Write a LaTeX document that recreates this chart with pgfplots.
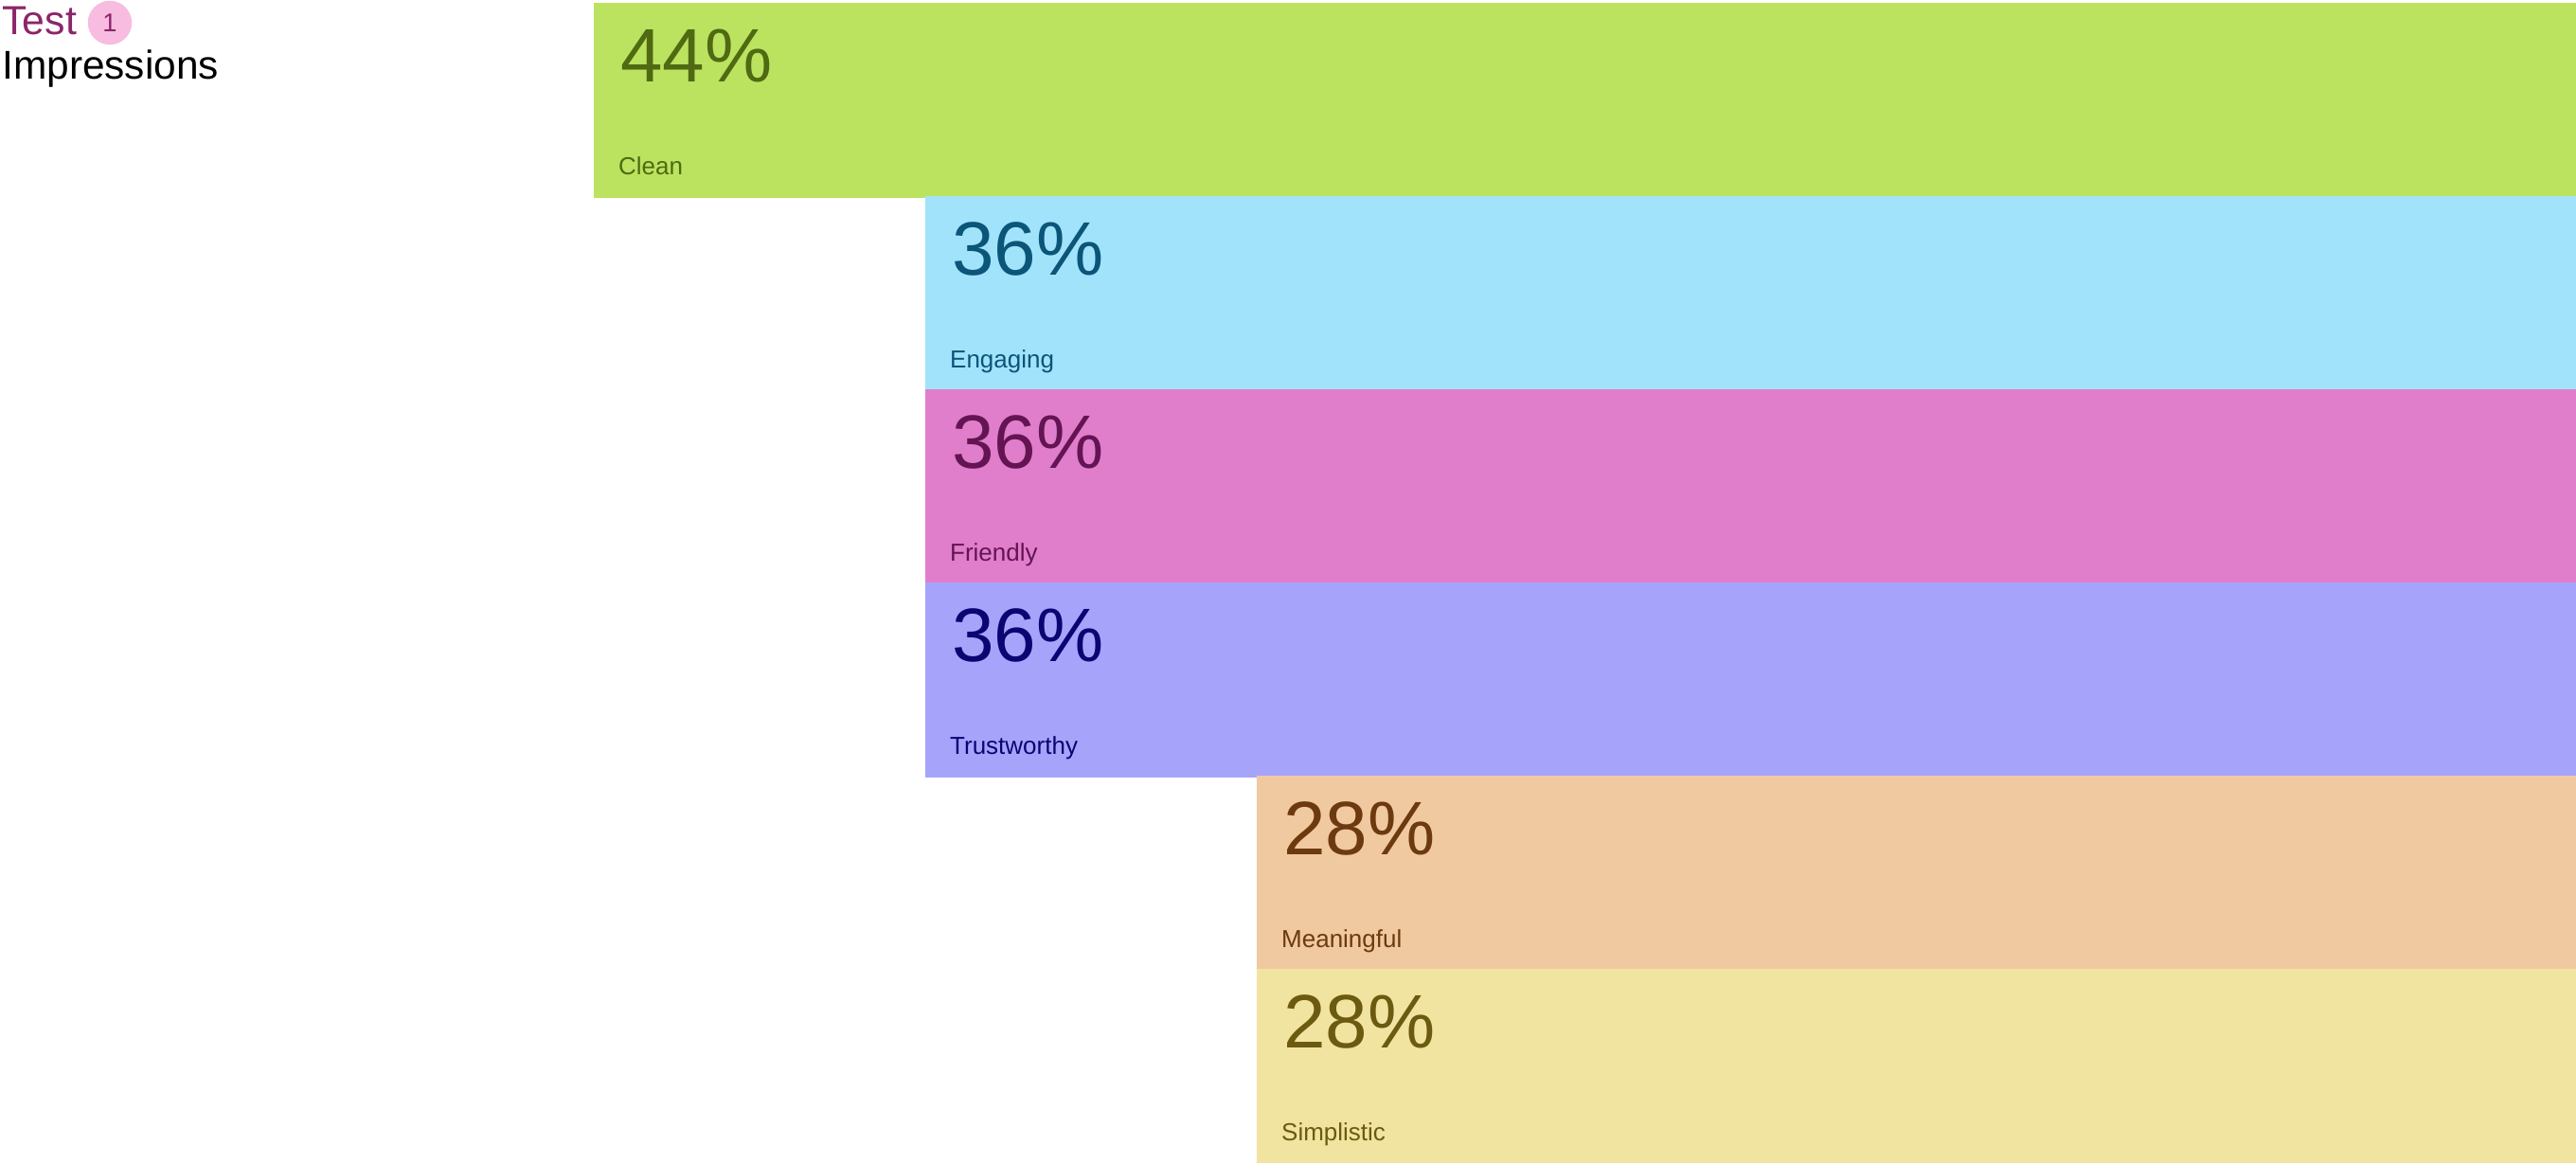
\documentclass[border=0pt]{standalone}
\usepackage{pgfplots}
\pgfplotsset{compat=1.18}
\usepackage{fontspec}
\setmainfont{Liberation Sans}
\definecolor{fClean}{HTML}{BBE35F}\definecolor{tClean}{HTML}{4F6A12}
\definecolor{fEng}{HTML}{A2E3FC}\definecolor{tEng}{HTML}{0A5578}
\definecolor{fFri}{HTML}{E07ECB}\definecolor{tFri}{HTML}{641452}
\definecolor{fTru}{HTML}{A6A4FA}\definecolor{tTru}{HTML}{0A0573}
\definecolor{fMea}{HTML}{F0C9A1}\definecolor{tMea}{HTML}{6C3A0E}
\definecolor{fSim}{HTML}{F1E4A0}\definecolor{tSim}{HTML}{6B5A10}
\definecolor{tTest}{HTML}{8B2668}\definecolor{fBadge}{HTML}{F7BCE0}
\newcommand{\bigpct}{\fontsize{20}{24}\selectfont}
\newcommand{\smalllab}{\fontsize{6.5}{8}\selectfont}
\begin{document}
\begin{tikzpicture}
\begin{axis}[
  width=680pt, height=307pt, scale only axis,
  hide axis, x dir=reverse,
  xmin=-3.817, xmax=58.354, ymin=-0.5, ymax=5.5196,
  xbar, bar width=1, bar shift=0pt,
]
\addplot[draw=fClean, line width=0.3pt, fill=fClean] coordinates {(44,5) (-10,5)};
\addplot[draw=fEng, line width=0.3pt, fill=fEng] coordinates {(36,4) (-10,4)};
\addplot[draw=fFri, line width=0.3pt, fill=fFri] coordinates {(36,3) (-10,3)};
\addplot[draw=fTru, line width=0.3pt, fill=fTru] coordinates {(36,2) (-10,2)};
\addplot[draw=fMea, line width=0.3pt, fill=fMea] coordinates {(28,1) (-10,1)};
\addplot[draw=fSim, line width=0.3pt, fill=fSim] coordinates {(28,0) (-10,0)};

\tikzset{pct/.style={anchor=base west, inner sep=0pt, font=\bigpct, xshift=6.6pt, yshift=4.75pt},
         lab/.style={anchor=base west, inner sep=0pt, font=\smalllab, xshift=6.1pt, yshift=-19.75pt}}
\node[pct, text=tClean] at (axis cs:44,5) {44\%};
\node[lab, text=tClean] at (axis cs:44,5) {Clean};
\node[pct, text=tEng] at (axis cs:36,4) {36\%};
\node[lab, text=tEng] at (axis cs:36,4) {Engaging};
\node[pct, text=tFri] at (axis cs:36,3) {36\%};
\node[lab, text=tFri] at (axis cs:36,3) {Friendly};
\node[pct, text=tTru] at (axis cs:36,2) {36\%};
\node[lab, text=tTru] at (axis cs:36,2) {Trustworthy};
\node[pct, text=tMea] at (axis cs:28,1) {28\%};
\node[lab, text=tMea] at (axis cs:28,1) {Meaningful};
\node[pct, text=tSim] at (axis cs:28,0) {28\%};
\node[lab, text=tSim] at (axis cs:28,0) {Simplistic};

\node[anchor=base west, inner sep=0pt, text=tTest, font=\fontsize{10.7}{12}\selectfont, xshift=0.4pt, yshift=-9.2pt] at (rel axis cs:0,1) {Test};
\fill[fBadge] ([xshift=29pt, yshift=-6pt]rel axis cs:0,1) circle[radius=5.8pt];
\node[inner sep=0pt, text=tTest, font=\fontsize{6.8}{8}\selectfont] at ([xshift=29pt, yshift=-6pt]rel axis cs:0,1) {1};
\node[anchor=base west, inner sep=0pt, text=black, font=\fontsize{10.6}{12}\selectfont, xshift=0.4pt, yshift=-21pt] at (rel axis cs:0,1) {Impressions};
\end{axis}
\path (current axis.south west) rectangle (current axis.north east);
\end{tikzpicture}
\end{document}
